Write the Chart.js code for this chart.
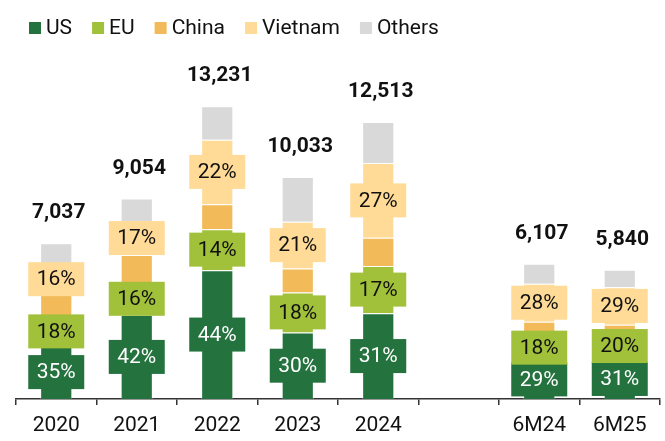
<!DOCTYPE html>
<html>
<head>
<meta charset="utf-8">
<script src="https://cdn.jsdelivr.net/npm/chart.js@4.4.0/dist/chart.umd.min.js"></script>
<style>
  html, body { margin: 0; padding: 0; background: #fff; }
  #wrap { width: 665px; height: 441px; }
</style>
</head>
<body>
<div id="wrap"><canvas id="barChart" width="665" height="441"></canvas></div>
<script>
// categories and values
const categories = ['2020', '2021', '2022', '2023', '2024', '', '6M24', '6M25'];
const usValues      = [2430, 3803, 5822, 3010, 3879, null, 1771, 1810];
const euValues      = [1250, 1449, 1852, 1806, 2127, null, 1099, 1168];
const chinaValues   = [1170, 1250, 1130, 1083, 1278, null, 625, 380];
const vietnamValues = [1126, 1539, 2911, 2107, 3379, null, 1710, 1694];
const othersValues  = [1061, 1013, 1516, 2027, 1850, null, 902, 788];
const totals        = [7037, 9054, 13231, 10033, 12513, null, 6107, 5840];
const usPct      = [35, 42, 44, 30, 31, null, 29, 31];
const euPct      = [18, 16, 14, 18, 17, null, 18, 20];
const vietnamPct = [16, 17, 22, 21, 27, null, 28, 29];

const FONT = 'Roboto, "Liberation Sans", sans-serif';
const colors = {
  us: '#24723e',
  eu: '#a2c13b',
  china: '#f2ba59',
  vietnam: '#ffdb97',
  others: '#d9d9d9'
};

// percent boxes, totals and legend
const labelPlugin = {
  id: 'segLabels',
  afterDatasetsDraw(chart) {
    const ctx = chart.ctx;
    ctx.save();
    ctx.textAlign = 'center';
    ctx.textBaseline = 'middle';
    ctx.font = '21px ' + FONT;
    const boxed = [[0, usPct, '#fff'], [1, euPct, '#111'], [3, vietnamPct, '#111']];
    boxed.forEach(([di, pcts, txt]) => {
      const meta = chart.getDatasetMeta(di);
      const bg = chart.data.datasets[di].backgroundColor;
      meta.data.forEach((el, i) => {
        if (pcts[i] == null) return;
        const cy = (el.y + el.base) / 2;
        ctx.fillStyle = bg;
        ctx.fillRect(el.x - 28, cy - 17, 56, 34);
        ctx.fillStyle = txt;
        ctx.fillText(pcts[i] + '%', el.x, cy + 1);
      });
    });
    // totals
    ctx.font = 'bold 21px ' + FONT;
    ctx.fillStyle = '#111';
    const top = chart.getDatasetMeta(4);
    top.data.forEach((el, i) => {
      if (totals[i] == null) return;
      ctx.fillText(totals[i].toLocaleString('en-US'), el.x + 2.5, el.y - 30);
    });
    // legend
    ctx.font = '21px ' + FONT;
    ctx.textAlign = 'left';
    let x = 29;
    chart.data.datasets.forEach(ds => {
      ctx.fillStyle = ds.backgroundColor;
      ctx.fillRect(x, 22, 12, 12);
      ctx.fillStyle = '#111';
      ctx.fillText(ds.label, x + 17, 29);
      x += 17 + ctx.measureText(ds.label).width + 20;
    });
    ctx.restore();
  }
};

const ctx = document.getElementById('barChart').getContext('2d');
const chart = new Chart(ctx, {
  type: 'bar',
  data: {
    labels: categories,
    datasets: [
      { label: 'US', data: usValues, backgroundColor: colors.us },
      { label: 'EU', data: euValues, backgroundColor: colors.eu },
      { label: 'China', data: chinaValues, backgroundColor: colors.china },
      { label: 'Vietnam', data: vietnamValues, backgroundColor: colors.vietnam },
      { label: 'Others', data: othersValues, backgroundColor: colors.others }
    ]
  },
  options: {
    responsive: false,
    animation: false,
    layout: { padding: { left: 16, right: 5, top: 67, bottom: 0 } },
    datasets: { bar: { categoryPercentage: 1, barPercentage: 0.4, borderWidth: 1, borderColor: 'rgba(255,255,255,0.35)' } },
    plugins: {
      legend: { display: false },
      tooltip: { enabled: false }
    },
    scales: {
      x: {
        stacked: true,
        afterFit: axis => { axis.height = 42; },
        grid: { drawOnChartArea: false, tickLength: 6, color: '#333', lineWidth: 1.5 },
        border: { color: '#333', width: 1.5 },
        ticks: { color: '#111', padding: 8, font: { family: FONT, size: 21 } }
      },
      y: {
        stacked: true,
        display: false,
        min: 0,
        max: 15000
      }
    }
  },
  plugins: [labelPlugin]
});
</script>
</body>
</html>
